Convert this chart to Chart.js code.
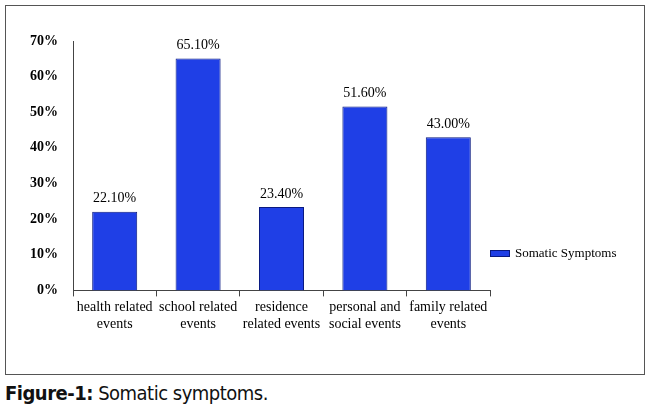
<!DOCTYPE html>
<html><head><meta charset="utf-8">
<script src="https://cdn.jsdelivr.net/npm/chart.js@4"></script>
<style>
body{margin:0;background:#fff;width:650px;height:412px;position:relative;overflow:hidden}
#box{position:absolute;left:5px;top:5px;width:638px;height:368px;border:1px solid #555}
#legend{position:absolute;left:490px;top:245px;font:13px "Liberation Serif";color:#000;display:flex;align-items:center}
#legend span.sw{display:inline-block;width:18px;height:5px;background:#1f3fe6;border:1px solid #0a1a80;margin-right:5px}
#cap{position:absolute;left:5px;top:381px;font:20px "DejaVu Sans Condensed","DejaVu Sans";font-stretch:condensed;color:#111;letter-spacing:-0.5px}
</style></head><body>
<div id="box"><canvas id="c" width="638" height="368"></canvas></div>
<div id="legend"><span class="sw"></span>Somatic Symptoms</div>
<div id="cap"><b>Figure-1:</b> Somatic symptoms.</div>
<script>
const categories=[["health related","events"],["school related","events"],["residence","related events"],["personal and","social events"],["family related","events"]];
const values=[22.1,65.1,23.4,51.6,43.0];
const seriesName="Somatic Symptoms";
const labelPlugin={id:'vals',afterDatasetsDraw(ch){const c=ch.ctx;c.save();c.font='14px "Liberation Serif"';c.fillStyle='#000';c.textAlign='center';c.textBaseline='bottom';
ch.getDatasetMeta(0).data.forEach((b,i)=>c.fillText(values[i].toFixed(2)+'%',b.x,b.y-6));c.restore();}};
new Chart(document.getElementById('c'),{type:'bar',
data:{labels:categories,datasets:[{label:seriesName,data:values,backgroundColor:'#1f3fe6',borderColor:'#0a1a80',borderWidth:1,categoryPercentage:0.6,barPercentage:0.9}]},
options:{responsive:false,animation:false,
layout:{padding:{top:35,right:154,bottom:38,left:14}},
plugins:{legend:{display:false},tooltip:{enabled:false}},
scales:{y:{min:0,max:70,ticks:{stepSize:10,padding:10,callback:v=>v+'%',font:{family:'Liberation Serif',size:14,weight:'bold'},color:'#000'},grid:{display:false,drawTicks:true,tickLength:5},border:{color:'#444'}},
x:{ticks:{font:{family:'Liberation Serif',size:14},color:'#000',maxRotation:0},grid:{display:true,drawOnChartArea:false,offset:true,tickLength:6,color:'#444'},border:{color:'#444'}}}},
plugins:[labelPlugin]});
</script></body></html>
